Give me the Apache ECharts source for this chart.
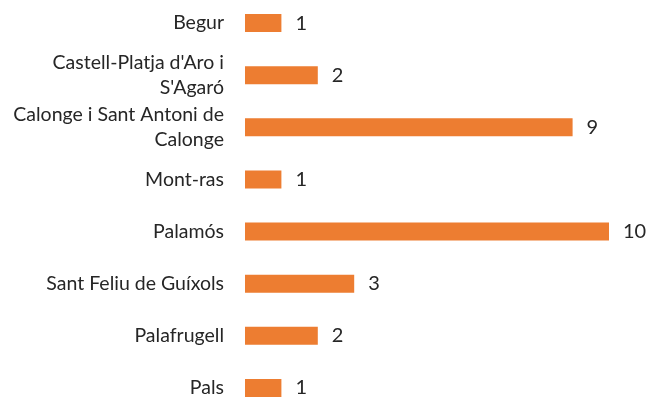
<!DOCTYPE html>
<html><head><meta charset="utf-8">
<script src="https://cdn.jsdelivr.net/npm/echarts@6/dist/echarts.min.js"></script>
<style>html,body{margin:0;padding:0;background:#fff}#c{width:659px;height:400px}</style>
</head><body><div id="c"></div>
<script>
const categories = ["Begur", "Castell-Platja d'Aro i\nS'Agaró", "Calonge i Sant Antoni de\nCalonge", "Mont-ras", "Palamós", "Sant Feliu de Guíxols", "Palafrugell", "Pals"];
const values = [1, 2, 9, 1, 10, 3, 2, 1];
const FONT = "Lato";
const chart = echarts.init(document.getElementById('c'), null, {renderer: 'canvas'});
chart.setOption({
  animation: false,
  backgroundColor: '#fff',
  grid: {left: 245, width: 364, top: -3, height: 417, containLabel: false, outerBoundsMode: 'none'},
  xAxis: {type: 'value', min: 0, max: 10, show: false},
  yAxis: {
    type: 'category', data: categories, inverse: true,
    axisLine: {show: false}, axisTick: {show: false}, splitLine: {show: false},
    axisLabel: {margin: 21, fontFamily: FONT, fontSize: 19.5, color: '#262626', lineHeight: 25, align: 'right'}
  },
  series: [{
    type: 'bar', data: values, barWidth: 18,
    itemStyle: {color: '#ED7D31'},
    label: {show: true, position: 'right', distance: 14, fontFamily: FONT, fontSize: 20, color: '#262626'}
  }]
});
</script></body></html>
